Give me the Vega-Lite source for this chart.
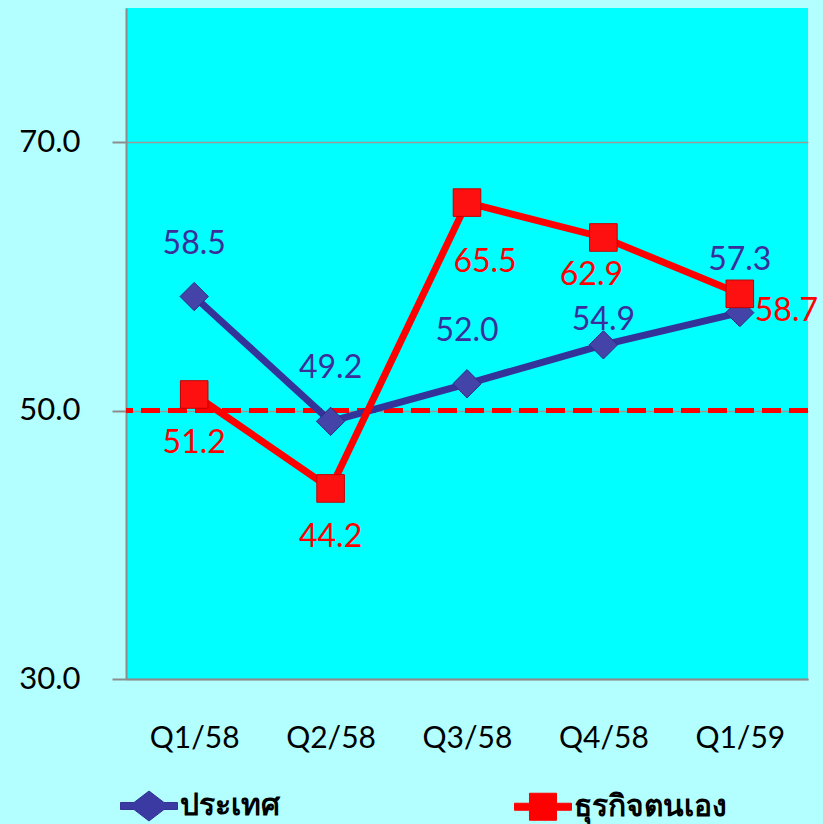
{
  "$schema": "https://vega.github.io/schema/vega-lite/v6.json",
  "width": 682,
  "height": 671,
  "autosize": {"type": "none"},
  "padding": {"left": 126, "top": 8, "right": 15, "bottom": 145},
  "background": "#B3FFFF",
  "config": {
    "view": {"fill": "#00FFFF", "stroke": null},
    "font": "Lato",
    "axis": {"labelFont": "Lato", "labelFontSize": 30, "labelColor": "#000000", "title": null}
  },
  "data": {
    "values": [
      {"q": "Q1/58", "series": "ประเทศ", "value": 58.5},
      {"q": "Q2/58", "series": "ประเทศ", "value": 49.2},
      {"q": "Q3/58", "series": "ประเทศ", "value": 52.0},
      {"q": "Q4/58", "series": "ประเทศ", "value": 54.9},
      {"q": "Q1/59", "series": "ประเทศ", "value": 57.3},
      {"q": "Q1/58", "series": "ธุรกิจตนเอง", "value": 51.2},
      {"q": "Q2/58", "series": "ธุรกิจตนเอง", "value": 44.2},
      {"q": "Q3/58", "series": "ธุรกิจตนเอง", "value": 65.5},
      {"q": "Q4/58", "series": "ธุรกิจตนเอง", "value": 62.9},
      {"q": "Q1/59", "series": "ธุรกิจตนเอง", "value": 58.7}
    ]
  },
  "layer": [
    {
      "data": {"values": [{}]},
      "mark": {"type": "rule", "color": "#FF0000", "strokeWidth": 5, "strokeDash": [19, 8]},
      "encoding": {
        "y": {"datum": 50, "type": "quantitative", "scale": {"domain": [30, 80], "nice": false},
          "axis": {"values": [30, 50, 70], "format": ".1f", "grid": true, "gridColor": "#999999", "gridWidth": 1.5,
            "labelFontSize": 31,
            "domainColor": "#8C8C8C", "domainWidth": 2, "tickColor": "#8C8C8C", "tickWidth": 2, "tickSize": 14, "labelPadding": 32}}
      }
    },
    {
      "mark": {"type": "line", "strokeWidth": 7},
      "encoding": {
        "x": {"field": "q", "type": "ordinal", "sort": null, "scale": {"padding": 0.5},
          "axis": {"labelAngle": 0, "ticks": false, "domainColor": "#8C8C8C", "domainWidth": 2, "labelPadding": 44}},
        "y": {"field": "value", "type": "quantitative"},
        "stroke": {"field": "series", "type": "nominal",
          "scale": {"domain": ["ประเทศ", "ธุรกิจตนเอง"], "range": ["#333399", "#FF0000"]},
          "legend": {"orient": "none", "legendX": -6, "legendY": 769, "direction": "horizontal", "title": null,
            "symbolSize": 3249,
            "labelFont": "Lato", "labelFontSize": 30, "labelFontWeight": "bold", "labelColor": "#000000",
            "labelOffset": 2, "columnPadding": 232,
            "encode": {
              "symbols": {
                "update": {
                  "shape": {"signal": "datum.value == 'ประเทศ' ? 'M-1,-0.123 L-0.526,-0.123 L0,-0.526 L0.526,-0.123 L1,-0.123 L1,0.123 L0.526,0.123 L0,0.526 L-0.526,0.123 L-1,0.123 Z' : 'M-1,-0.123 L-0.474,-0.123 L-0.474,-0.474 L0.474,-0.474 L0.474,-0.123 L1,-0.123 L1,0.123 L0.474,0.123 L0.474,0.474 L-0.474,0.474 L-0.474,0.123 L-1,0.123 Z'"},
                  "fill": {"signal": "datum.value == 'ประเทศ' ? '#3A3AA2' : '#FF0000'"},
                  "fillOpacity": {"value": 1},
                  "stroke": {"signal": "datum.value == 'ประเทศ' ? '#2C2C80' : '#C80000'"},
                  "strokeWidth": {"value": 1}
                }
              }
            }}}
      }
    },
    {
      "transform": [{"filter": "datum.series == 'ประเทศ'"}],
      "mark": {"type": "point", "filled": true, "size": 800, "opacity": 1, "shape": "diamond", "fill": "#4343A8", "stroke": "#2C2C80", "strokeWidth": 1},
      "encoding": {
        "x": {"field": "q", "type": "ordinal", "sort": null},
        "y": {"field": "value", "type": "quantitative"}
      }
    },
    {
      "transform": [{"filter": "datum.series == 'ธุรกิจตนเอง'"}],
      "mark": {"type": "point", "filled": true, "size": 760, "opacity": 1, "shape": "square", "fill": "#FF1010", "stroke": "#C00000", "strokeWidth": 1},
      "encoding": {
        "x": {"field": "q", "type": "ordinal", "sort": null},
        "y": {"field": "value", "type": "quantitative"}
      }
    },
    {
      "transform": [{"filter": "datum.series == 'ประเทศ' && datum.q != 'Q4/58'"}],
      "mark": {"type": "text", "dy": -53, "fontSize": 32, "color": "#3B2E9B", "baseline": "middle"},
      "encoding": {
        "x": {"field": "q", "type": "ordinal", "sort": null},
        "y": {"field": "value", "type": "quantitative"},
        "text": {"field": "value", "type": "quantitative", "format": ".1f"}
      }
    },
    {
      "transform": [{"filter": "datum.series == 'ประเทศ' && datum.q == 'Q4/58'"}],
      "mark": {"type": "text", "dy": -25, "fontSize": 32, "color": "#3B2E9B", "baseline": "middle"},
      "encoding": {
        "x": {"field": "q", "type": "ordinal", "sort": null},
        "y": {"field": "value", "type": "quantitative"},
        "text": {"field": "value", "type": "quantitative", "format": ".1f"}
      }
    },
    {
      "transform": [{"filter": "datum.series == 'ธุรกิจตนเอง' && (datum.q == 'Q1/58' || datum.q == 'Q2/58')"}],
      "mark": {"type": "text", "dy": 49, "fontSize": 32, "color": "#FF0000", "baseline": "middle"},
      "encoding": {
        "x": {"field": "q", "type": "ordinal", "sort": null},
        "y": {"field": "value", "type": "quantitative"},
        "text": {"field": "value", "type": "quantitative", "format": ".1f"}
      }
    },
    {
      "transform": [{"filter": "datum.series == 'ธุรกิจตนเอง' && datum.q == 'Q3/58'"}],
      "mark": {"type": "text", "dx": 18, "dy": 59, "fontSize": 32, "color": "#FF0000", "baseline": "middle"},
      "encoding": {
        "x": {"field": "q", "type": "ordinal", "sort": null},
        "y": {"field": "value", "type": "quantitative"},
        "text": {"field": "value", "type": "quantitative", "format": ".1f"}
      }
    },
    {
      "transform": [{"filter": "datum.series == 'ธุรกิจตนเอง' && datum.q == 'Q4/58'"}],
      "mark": {"type": "text", "dx": -12, "dy": 38, "fontSize": 32, "color": "#FF0000", "baseline": "middle"},
      "encoding": {
        "x": {"field": "q", "type": "ordinal", "sort": null},
        "y": {"field": "value", "type": "quantitative"},
        "text": {"field": "value", "type": "quantitative", "format": ".1f"}
      }
    },
    {
      "transform": [{"filter": "datum.series == 'ธุรกิจตนเอง' && datum.q == 'Q1/59'"}],
      "mark": {"type": "text", "dx": 15, "dy": 17, "align": "left", "fontSize": 32, "color": "#FF0000", "baseline": "middle"},
      "encoding": {
        "x": {"field": "q", "type": "ordinal", "sort": null},
        "y": {"field": "value", "type": "quantitative"},
        "text": {"field": "value", "type": "quantitative", "format": ".1f"}
      }
    }
  ]
}
